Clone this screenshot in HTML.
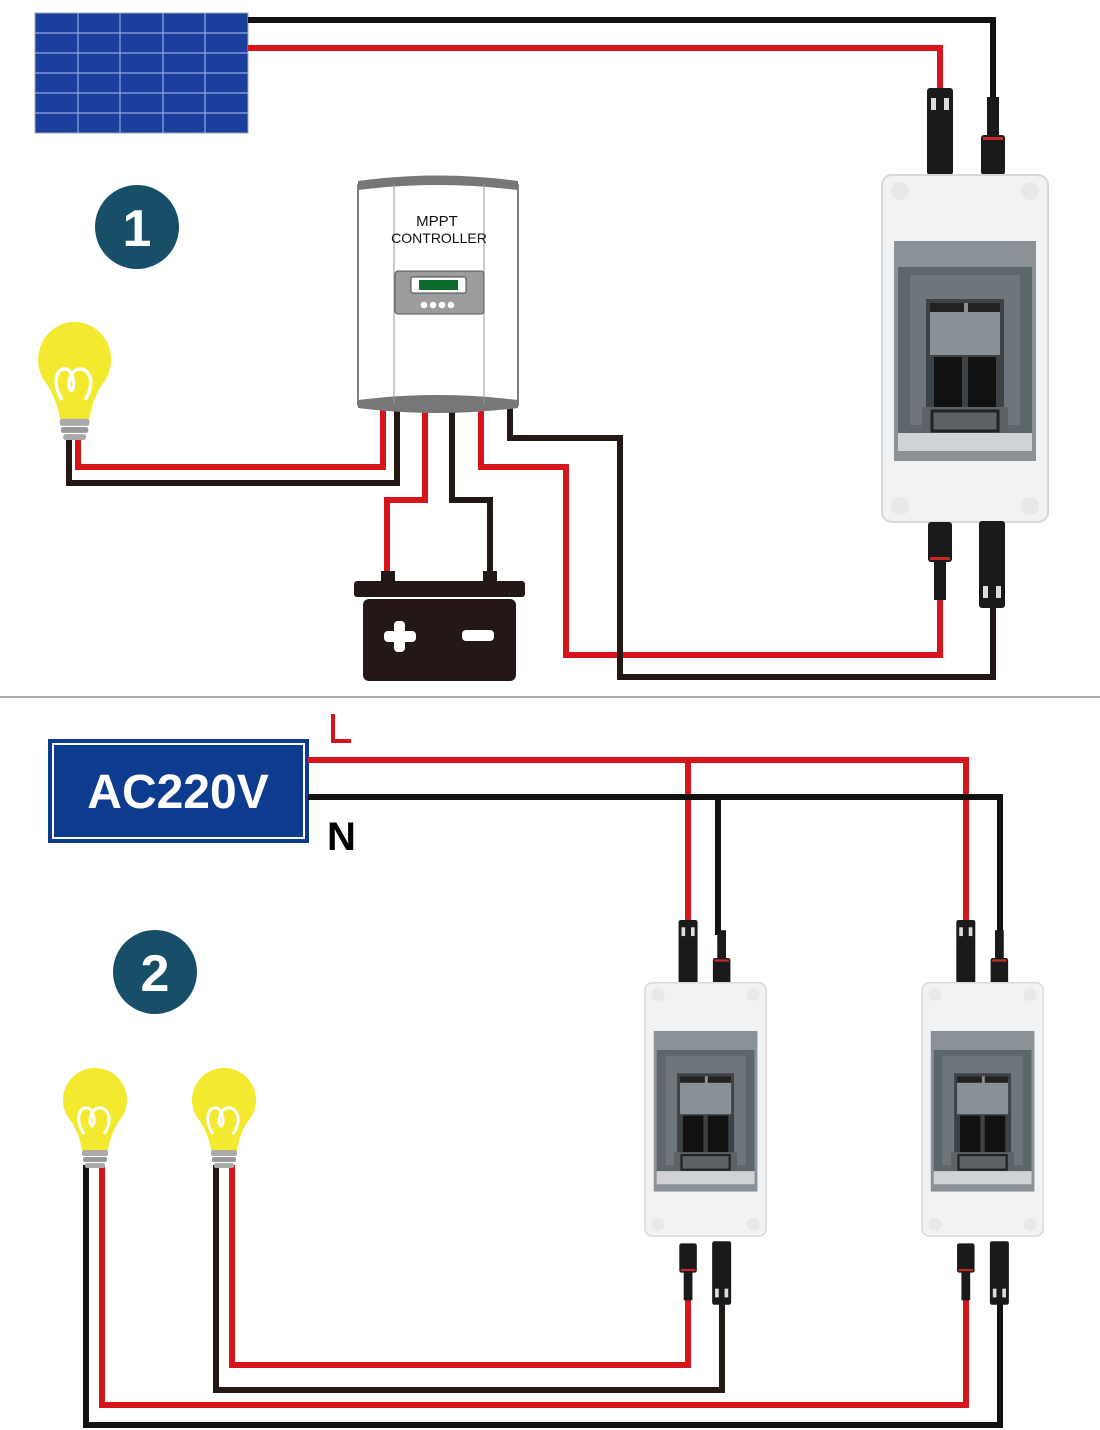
<!DOCTYPE html>
<html><head><meta charset="utf-8"><style>
html,body{margin:0;padding:0;background:#fff}
svg{display:block}
text{font-family:"Liberation Sans",sans-serif}
</style></head><body>
<svg width="1100" height="1430" viewBox="0 0 1100 1430" xmlns="http://www.w3.org/2000/svg">
<defs>
<g id="bulb">
 <circle cx="33" cy="32" r="32" fill="#f3e92e"/>
 <path d="M6,48 Q18,66 20,82 L46,82 Q48,66 60,48 Z" fill="#f3e92e"/>
 <path d="M22,66 C12,50 18,38 26,40 C32,42 34,56 30,58 C26,56 28,42 36,40 C46,38 52,52 42,66" fill="none" stroke="#fff" stroke-width="3"/>
 <rect x="20" y="82" width="26" height="6" rx="2" fill="#aaa"/>
 <rect x="21" y="89" width="24" height="5" rx="2" fill="#999"/>
 <rect x="23" y="95" width="20" height="5" rx="2" fill="#aaa"/>
</g>
<g id="box">
 <rect x="0" y="0" width="166" height="347" rx="10" fill="#f1f2f3" stroke="#d8d8d8" stroke-width="2"/>
 <circle cx="18" cy="16" r="9" fill="#e6e8ea"/><circle cx="148" cy="16" r="9" fill="#e6e8ea"/>
 <circle cx="18" cy="331" r="9" fill="#e6e8ea"/><circle cx="148" cy="331" r="9" fill="#e6e8ea"/>
 <rect x="12" y="66" width="142" height="220" fill="#8a9298"/>
 <rect x="16" y="92" width="134" height="170" fill="#5d666b"/>
 <rect x="28" y="100" width="110" height="150" fill="#6e767b"/>
 <rect x="44" y="124" width="78" height="128" fill="#3c4246"/>
 <rect x="48" y="128" width="70" height="52" fill="#8a9196"/>
 <rect x="48" y="128" width="34" height="9" fill="#222"/>
 <rect x="86" y="128" width="32" height="9" fill="#222"/>
 <rect x="52" y="182" width="28" height="50" fill="#111"/>
 <rect x="86" y="182" width="28" height="50" fill="#111"/>
 <rect x="40" y="232" width="86" height="28" fill="#5c6266"/>
 <rect x="50" y="236" width="66" height="20" fill="none" stroke="#222" stroke-width="3"/>
 <rect x="16" y="258" width="134" height="18" fill="#cfd3d6"/>
</g>
<g id="fem"><rect x="-13" y="0" width="26" height="87" rx="3" fill="#1a1a1a"/><rect x="-9" y="10" width="5" height="12" fill="#ddd"/><rect x="4" y="10" width="5" height="12" fill="#ddd"/></g>
<g id="male"><rect x="-6" y="0" width="12" height="40" fill="#1a1a1a"/><rect x="-12" y="38" width="24" height="40" rx="3" fill="#1a1a1a"/><rect x="-10" y="40" width="20" height="3" fill="#c62828"/></g>
</defs>

<rect x="35" y="13" width="213" height="120" fill="#1c3f9e" stroke="#9aa" stroke-width="1"/>
<g stroke="#8fa8e0" stroke-width="1.2">
 <line x1="78" y1="13" x2="78" y2="133"/><line x1="120" y1="13" x2="120" y2="133"/><line x1="163" y1="13" x2="163" y2="133"/><line x1="205" y1="13" x2="205" y2="133"/>
 <line x1="35" y1="33" x2="248" y2="33"/><line x1="35" y1="53" x2="248" y2="53"/><line x1="35" y1="73" x2="248" y2="73"/><line x1="35" y1="93" x2="248" y2="93"/><line x1="35" y1="113" x2="248" y2="113"/>
</g>

<g fill="none" stroke-width="6" stroke-linejoin="miter">
 <polyline points="248,20 993,20 993,100" stroke="#111"/>
 <polyline points="248,48 940,48 940,90" stroke="#d7141c"/>
 <polyline points="940,595 940,655 566,655 566,467 481,467 481,408" stroke="#d7141c"/>
 <polyline points="993,605 993,677 620,677 620,438 510,438 510,408" stroke="#231815"/>
 <polyline points="425,408 425,500 387,500 387,575" stroke="#d7141c"/>
 <polyline points="452,408 452,500 490,500 490,575" stroke="#231815"/>
 <polyline points="383,408 383,467 78,467 78,438" stroke="#d7141c"/>
 <polyline points="397,408 397,483 69,483 69,438" stroke="#231815"/>
</g>

<use href="#fem" x="940" y="88"/>
<use href="#male" x="993" y="97"/>
<use href="#box" x="882" y="175"/>
<g transform="translate(940,600) scale(1,-1)"><use href="#male"/></g>
<g transform="translate(992,608) scale(1,-1)"><use href="#fem"/></g>

<circle cx="137" cy="227" r="42" fill="#174f68"/>
<text x="137" y="246" font-size="52" font-weight="bold" fill="#fff" text-anchor="middle">1</text>

<g transform="translate(37,322) scale(1.14,1.18)"><use href="#bulb"/></g>

<path d="M358,185 Q438,172 518,185 L518,405 Q438,418 358,405 Z" fill="#fff" stroke="#555" stroke-width="1.5"/>
<path d="M358,181 Q438,170 518,181 L518,190 Q438,180 358,190 Z" fill="#777"/>
<path d="M358,400 Q438,390 518,400 L518,408 Q438,418 358,408 Z" fill="#777"/>
<line x1="394" y1="184" x2="394" y2="404" stroke="#999"/>
<line x1="484" y1="184" x2="484" y2="404" stroke="#999"/>
<text x="437" y="226" font-size="15" fill="#111" text-anchor="middle">MPPT</text>
<text x="439" y="243" font-size="14" fill="#111" text-anchor="middle">CONTROLLER</text>
<rect x="395" y="271" width="89" height="43" rx="3" fill="#9a9c9e" stroke="#555"/>
<rect x="411" y="277" width="55" height="16" rx="2" fill="#fff" stroke="#444"/>
<rect x="419" y="280" width="39" height="10" fill="#0c6a2a"/>
<g fill="#fff"><circle cx="424" cy="305" r="3.3"/><circle cx="433" cy="305" r="3.3"/><circle cx="442" cy="305" r="3.3"/><circle cx="451" cy="305" r="3.3"/></g>

<rect x="381" y="571" width="14" height="10" fill="#231815"/>
<rect x="483" y="571" width="14" height="10" fill="#231815"/>
<rect x="354" y="581" width="171" height="16" rx="3" fill="#231815"/>
<rect x="363" y="599" width="153" height="82" rx="6" fill="#231815"/>
<rect x="384" y="631" width="32" height="11" rx="4" fill="#fff"/>
<rect x="394" y="621" width="11" height="31" rx="4" fill="#fff"/>
<rect x="462" y="630" width="32" height="11" rx="4" fill="#fff"/>

<line x1="0" y1="697" x2="1100" y2="697" stroke="#555" stroke-width="1"/>

<rect x="48" y="739" width="261" height="104" fill="#0d3b8e"/>
<rect x="53" y="744" width="251" height="94" fill="none" stroke="#fff" stroke-width="2"/>
<text x="178" y="808" font-size="48" font-weight="bold" fill="#fff" text-anchor="middle">AC220V</text>
<polyline points="333,714 333,741 351,741" fill="none" stroke="#d7141c" stroke-width="4"/>
<text x="327" y="850" font-size="40" font-weight="bold" fill="#000">N</text>

<g fill="none" stroke-width="6">
 <polyline points="308,760 966,760 966,925" stroke="#d7141c"/>
 <polyline points="688,760 688,925" stroke="#d7141c"/>
 <polyline points="308,797 1000,797 1000,935" stroke="#111"/>
 <polyline points="718,797 718,935" stroke="#111"/>
 <polyline points="688,1285 688,1365 232,1365 232,1165" stroke="#d7141c"/>
 <polyline points="722,1290 722,1390 216,1390 216,1165" stroke="#231815"/>
 <polyline points="966,1285 966,1405 102,1405 102,1165" stroke="#d7141c"/>
 <polyline points="1000,1290 1000,1425 86,1425 86,1165" stroke="#111"/>
</g>

<circle cx="155" cy="972" r="42" fill="#174f68"/>
<text x="155" y="991" font-size="52" font-weight="bold" fill="#fff" text-anchor="middle">2</text>

<g transform="translate(62,1068)"><use href="#bulb"/></g>
<g transform="translate(191,1068)"><use href="#bulb"/></g>

<g transform="translate(645,920) scale(0.73,0.73)">
 <use href="#fem" x="59" y="0"/><use href="#male" x="105" y="14"/>
 <use href="#box" x="0" y="86"/>
 <g transform="translate(59,521) scale(1,-1)"><use href="#male"/></g>
 <g transform="translate(105,527) scale(1,-1)"><use href="#fem"/></g>
</g>
<g transform="translate(922,920) scale(0.73,0.73)">
 <use href="#fem" x="60" y="0"/><use href="#male" x="106" y="14"/>
 <use href="#box" x="0" y="86"/>
 <g transform="translate(60,521) scale(1,-1)"><use href="#male"/></g>
 <g transform="translate(106,527) scale(1,-1)"><use href="#fem"/></g>
</g>
</svg>
</body></html>
